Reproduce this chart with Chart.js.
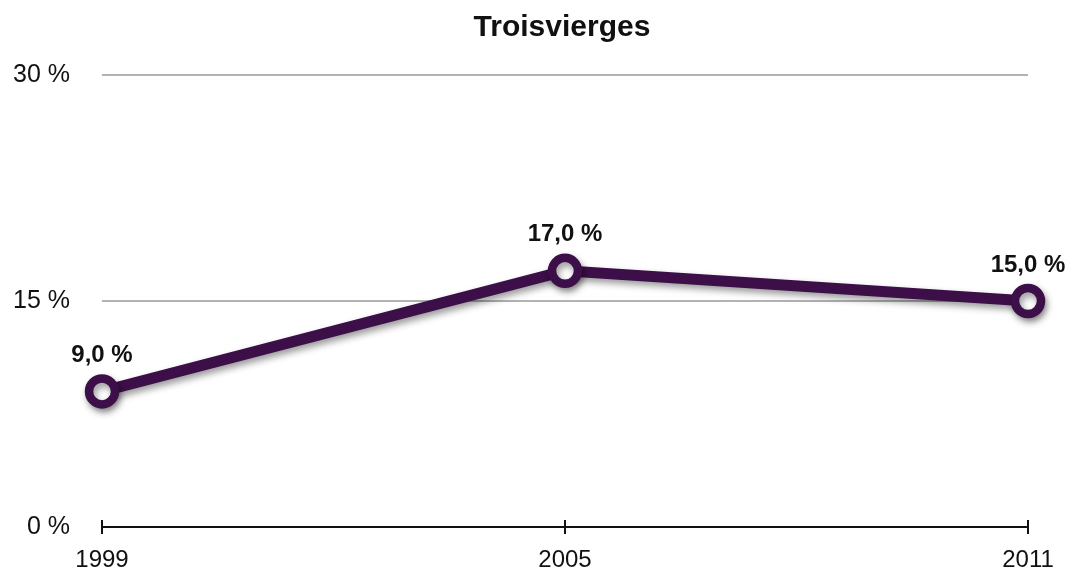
<!DOCTYPE html>
<html>
<head>
<meta charset="utf-8">
<script src="https://cdn.jsdelivr.net/npm/chart.js@4/dist/chart.umd.min.js"></script>
<style>
html,body{margin:0;padding:0;background:#fff;}
#wrap{width:1069px;height:570px;position:relative;}
</style>
</head>
<body>
<div id="wrap"><canvas id="c" width="1069" height="570"></canvas></div>
<script>
const chartTitle = "Troisvierges";
const categories = ["1999", "2005", "2011"];
const values = [9.0, 17.0, 15.0];
const yTicks = [0, 15, 30];

const FONT = "Helvetica, 'Liberation Sans', Arial, sans-serif";
const PURPLE = "#3c0f48";

const fmt = v => v.toFixed(1).replace('.', ',') + ' %';

const titlePlugin = {
  id: 'titleText',
  afterDraw(chart) {
    const ctx = chart.ctx;
    ctx.save();
    ctx.font = "bold 30px " + FONT;
    ctx.fillStyle = "#111";
    ctx.textAlign = "center";
    ctx.textBaseline = "middle";
    ctx.fillText(chartTitle, 562, 28);
    ctx.restore();
  }
};

const axisTicks = {
  id: 'axisTicks',
  afterDatasetsDraw(chart) {
    const ctx = chart.ctx;
    const x = chart.scales.x, y = chart.scales.y;
    const y0 = y.getPixelForValue(0);
    ctx.save();
    ctx.strokeStyle = "#111";
    ctx.lineWidth = 2;
    ctx.beginPath();
    ctx.moveTo(chart.chartArea.left, y0);
    ctx.lineTo(chart.chartArea.right, y0);
    categories.forEach((c, i) => {
      const px = Math.round(x.getPixelForValue(i));
      ctx.moveTo(px, y0 - 7);
      ctx.lineTo(px, y0 + 7);
    });
    ctx.stroke();
    ctx.restore();
  }
};

const shadowPlugin = {
  id: 'shadow',
  beforeDatasetDraw(chart) {
    const ctx = chart.ctx;
    ctx.save();
    ctx.shadowColor = 'rgba(0,0,0,0.4)';
    ctx.shadowBlur = 7;
    ctx.shadowOffsetX = 2;
    ctx.shadowOffsetY = 4;
  },
  afterDatasetDraw(chart) {
    chart.ctx.restore();
  }
};

const labelPlugin = {
  id: 'valueLabels',
  afterDatasetsDraw(chart) {
    const ctx = chart.ctx;
    const meta = chart.getDatasetMeta(0);
    ctx.save();
    ctx.font = "bold 24px " + FONT;
    ctx.fillStyle = "#111";
    ctx.textAlign = "center";
    ctx.textBaseline = "middle";
    meta.data.forEach((pt, i) => {
      ctx.fillText(fmt(values[i]), pt.x, pt.y - 36);
    });
    ctx.restore();
  }
};

new Chart(document.getElementById('c'), {
  type: 'line',
  data: {
    labels: categories,
    datasets: [{
      data: values,
      borderColor: PURPLE,
      borderWidth: 11,
      backgroundColor: '#fff',
      pointBackgroundColor: '#fff',
      pointBorderColor: PURPLE,
      pointBorderWidth: 8.5,
      pointRadius: 13,
      pointHoverRadius: 13,
      tension: 0,
      fill: false,
      clip: false
    }]
  },
  options: {
    responsive: false,
    animation: false,
    events: [],
    layout: { padding: { top: 75, right: 41, bottom: 0, left: 0 } },
    plugins: {
      legend: { display: false },
      title: { display: false },
      tooltip: { enabled: false }
    },
    scales: {
      x: {
        type: 'category',
        offset: false,
        grid: { display: false, drawTicks: false },
        border: { display: false },
        ticks: {
          padding: 19,
          color: '#111',
          font: { family: FONT, size: 24 },
          maxRotation: 0
        },
        afterFit(scale) { scale.height = 43; scale.paddingLeft = 0; scale.paddingRight = 0; }
      },
      y: {
        min: 0,
        max: 30,
        afterBuildTicks(scale) { scale.ticks = yTicks.map(v => ({ value: v })); },
        grid: {
          drawTicks: false,
          lineWidth: 2,
          color: ctx => (ctx.tick && ctx.tick.value === 0) ? 'rgba(0,0,0,0)' : '#b3b3b3'
        },
        border: { display: false },
        ticks: {
          padding: 32,
          color: '#111',
          font: { family: FONT, size: 25 },
          callback: v => v + ' %'
        },
        afterFit(scale) { scale.width = 102; scale.paddingTop = 0; scale.paddingBottom = 0; }
      }
    }
  },
  plugins: [titlePlugin, axisTicks, shadowPlugin, labelPlugin]
});
</script>
</body>
</html>
